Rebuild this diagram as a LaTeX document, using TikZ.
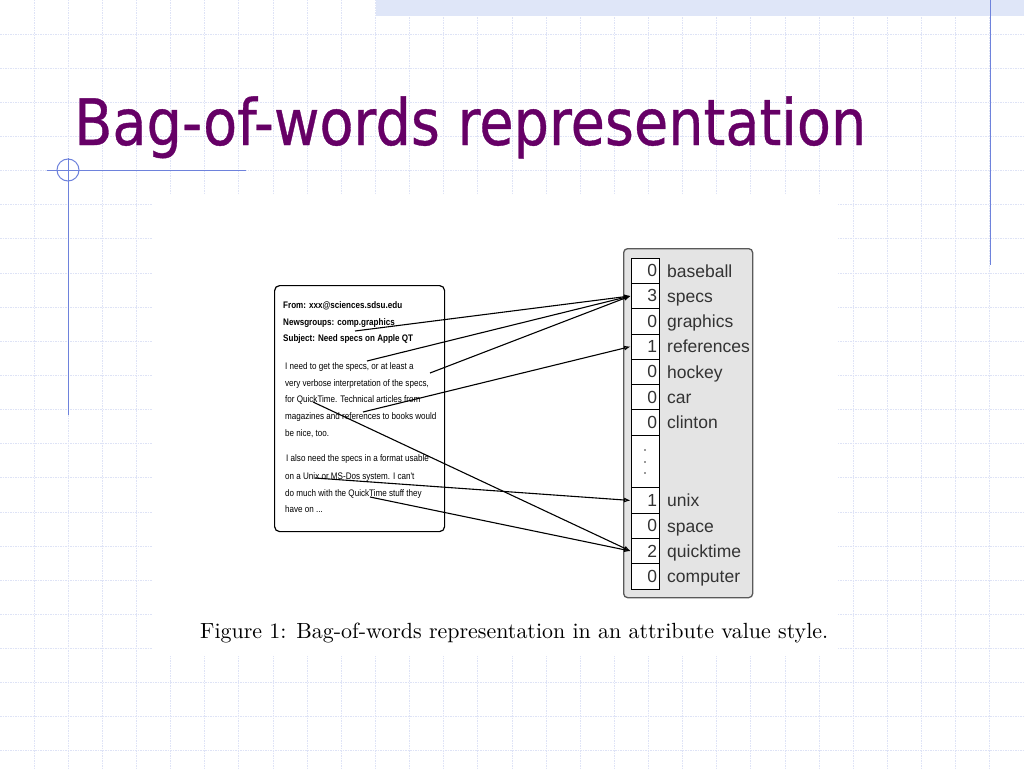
\documentclass[tikz,border=0pt]{standalone}
\usepackage{fontspec}
\usepackage{graphicx}
\usetikzlibrary{arrows.meta}
\newfontfamily\titlefont[FakeBold=0.6]{DejaVu Sans}
\newfontfamily\docfont[FakeStretch=0.85]{Liberation Sans}
\newfontfamily\vecfont{Liberation Sans}
\definecolor{gridc}{RGB}{222,227,246}
\definecolor{bandc}{RGB}{223,230,248}
\definecolor{decoc}{RGB}{110,130,220}
\definecolor{titlec}{RGB}{102,0,102}
\definecolor{boxgray}{RGB}{228,228,228}
\definecolor{txtgray}{RGB}{51,51,51}
\tikzset{
  gridline/.style={draw=gridc, line width=0.9pt, dash pattern=on 1.5pt off 1pt},
  deco/.style={draw=decoc, line width=1pt},
  docbox/.style={draw=black, fill=white, line width=1.2pt, rounded corners=5pt, inner sep=0pt},
  vecbox/.style={draw=black!65, fill=boxgray, line width=1.3pt, rounded corners=4pt, inner sep=0pt},
  cell/.style={draw=black, fill=white, line width=0.8pt, minimum width=28pt, minimum height=25.3pt,
    text width=24pt, inner xsep=2pt, inner ysep=0pt, align=right, font=\vecfont\fontsize{17.5}{18}\selectfont, text=txtgray},
  lbl/.style={anchor=base west, inner sep=0pt, font=\vecfont\fontsize{17.5}{18}\selectfont, text=txtgray},
  hdr/.style={anchor=base west, inner sep=0pt, font=\docfont\bfseries\fontsize{9.5}{10}\selectfont},
  body/.style={anchor=base west, inner sep=0pt, font=\docfont\fontsize{9.5}{10}\selectfont},
  arr/.style={-{Latex[open,length=6.5pt,width=5pt]}, line width=1.1pt, draw=black},
}
\begin{document}
\begin{tikzpicture}[x=1pt,y=-1pt]
\useasboundingbox (0,0) rectangle (1024,768);
\fill[white] (0,0) rectangle (1024,768);
% background grid
\foreach \k in {1,...,29} \draw[gridline] (\k*34.133,0) -- (\k*34.133,768);
\foreach \k in {1,...,22} \draw[gridline] (0,\k*34.133) -- (1024,\k*34.133);
\fill[white] (152,195) rectangle (838,656);
\fill[bandc] (376,0) rectangle (1024,16);
% decoration
\draw[deco] (47,170) -- (246,170);
\draw[deco] (68,158) -- (68,415);
\draw[deco] (68,170) circle[radius=11pt];
\draw[deco] (990,0) -- (990,265);
% title
\node[anchor=base west, inner sep=0pt, text=titlec] (title) at (74,145)
  {\resizebox{792pt}{\height}{\titlefont\fontsize{64}{70}\selectfont Bag-of-words representation}};
% document
\node[docbox, minimum width=170pt, minimum height=246pt, anchor=north west] (doc) at (274,285) {};
\node[hdr] (h1) at (283,308) {From: xxx@sciences.sdsu.edu};
\node[hdr] (h2) at (283,325) {Newsgroups: comp.graphics};
\node[hdr] (h3) at (283,341) {Subject: Need specs on Apple QT};
\node[body] (b1) at (285,369) {I need to get the specs, or at least a};
\node[body] (b2) at (285,386) {very verbose interpretation of the specs,};
\node[body] (b3) at (285,402) {for QuickTime. Technical articles from};
\node[body] (b4) at (285,419) {magazines and references to books would};
\node[body] (b5) at (285,436) {be nice, too.};
\node[body] (b6) at (286,461) {I also need the specs in a format usable};
\node[body] (b7) at (285,479) {on a Unix or MS-Dos system. I can't};
\node[body] (b8) at (285,496) {do much with the QuickTime stuff they};
\node[body] (b9) at (285,512) {have on ...};
% vector
\node[vecbox, minimum width=129pt, minimum height=349pt, anchor=north west] (vec) at (623,248) {};
\foreach \v/\w/\i in {0/baseball/0,3/specs/1,0/graphics/2,1/references/3,0/hockey/4,0/car/5,0/clinton/6}{
  \node[cell] (c-\w) at (645,270.65+25.3*\i) {\v};
  \node[lbl] (l-\w) at (667,277+25.3*\i) {\w};
}
\node[cell, minimum height=52.7pt] (c-dots) at (645,461.45) {};
\foreach \yy in {450,462,473} \fill[txtgray] (645,\yy) circle[radius=0.9pt];
\foreach \v/\w/\i in {1/unix/0,0/space/1,2/quicktime/2,0/computer/3}{
  \node[cell] (c-\w) at (645,500.45+25.3*\i) {\v};
  \node[lbl] (l-\w) at (667,506.8+25.3*\i) {\w};
}
% word anchors
\coordinate (w1) at (355,331);
\coordinate (w2) at (367,361);
\coordinate (w3) at (430,373);
\coordinate (w4) at (363,412);
\coordinate (w5) at (313,402);
\coordinate (w6) at (315,478);
\coordinate (w7) at (370,497);
\draw[arr] (w1) -- (c-specs.west);
\draw[arr] (w2) -- (c-specs.west);
\draw[arr] (w3) -- (c-specs.west);
\draw[arr] (w4) -- (c-references.west);
\draw[arr] (w5) -- (c-quicktime.west);
\draw[arr] (w6) -- (c-unix.west);
\draw[arr] (w7) -- (c-quicktime.west);
% caption
\node[anchor=base west, inner sep=0pt] (cap) at (200,638.3)
  {\resizebox{628pt}{!}{Figure 1: Bag-of-words representation in an attribute value style.}};
\end{tikzpicture}
\end{document}
